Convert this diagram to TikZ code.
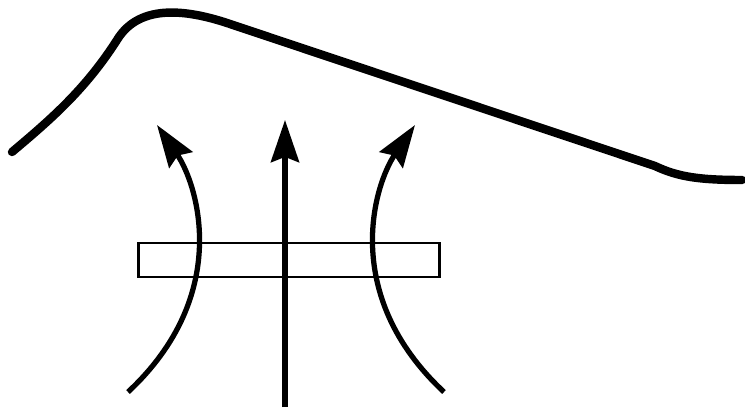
\documentclass[tikz,border=0pt]{standalone}
\usepackage{tikz}
\usetikzlibrary{positioning,arrows.meta}

\begin{document}
\begin{tikzpicture}[
  x=0.02cm, y=-0.02cm,
  prof/.style={line width=4.8pt, line cap=round, line join=round},
  fl/.style={line width=3pt, -{Stealth[length=24pt, width=16pt, inset=3pt]}},
  pl/.style={draw, line width=1.6pt, inner sep=0pt, minimum width=171.3pt, minimum height=19.3pt}
]
  \useasboundingbox (0,0) rectangle (745,409);
  % upper profile
  \coordinate (s0) at (12,152);
  \coordinate (s1) at (117,40);
  \coordinate (s2) at (233,25);
  \coordinate (s3) at (655,166);
  \coordinate (s4) at (742,180);
  \draw[prof] (s0) .. controls (50,120) and (85,90) .. (s1)
    .. controls (140,2) and (190,10) .. (s2) -- (s3)
    .. controls (678,177) and (700,180) .. (s4);
  % plate
  \node[pl] (plate) at (289,260) {};
  % flow lines
  \coordinate (a0) at (128,392);
  \coordinate (a1) at (157,125);
  \coordinate (b0) at (285,407);
  \coordinate (b1) at (285,120);
  \coordinate (c0) at (444,392);
  \coordinate (c1) at (415,125);
  \draw[fl] (a0) .. controls (232,295) and (198,185) .. (a1);
  \draw[fl] (b0) -- (b1);
  \draw[fl] (c0) .. controls (340,295) and (374,185) .. (c1);
\end{tikzpicture}
\end{document}
